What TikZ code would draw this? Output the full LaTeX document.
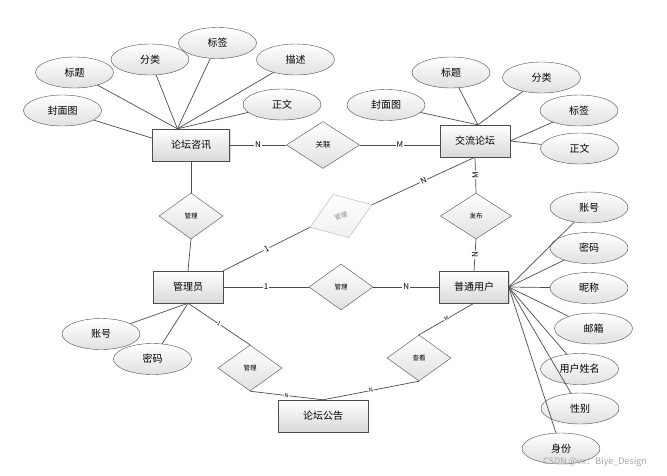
\documentclass[tikz,border=0pt]{standalone}
\usepackage{fontspec}
\newfontfamily\cjk{Noto Sans CJK SC}
\usetikzlibrary{shapes,shadows,positioning}

\begin{document}
\begin{tikzpicture}[on grid,
      entity/.style={draw=black!70,rectangle,minimum width=70pt,minimum height=32pt,
        top color=white,bottom color=black!15,
        drop shadow={shadow xshift=1.2pt,shadow yshift=-1.2pt,opacity=0.3},
        font=\cjk\fontsize{10}{12}\selectfont},
      attrib/.style={draw=black!70,ellipse,minimum width=78pt,minimum height=31pt,
        inner sep=0pt,top color=white,bottom color=black!12,
        font=\cjk\fontsize{10}{12}\selectfont},
      relship/.style={draw=black!70,diamond,minimum width=64pt,minimum height=46pt,
        inner sep=0pt,top color=white,bottom color=black!12,
        font=\cjk\fontsize{6.5}{8}\selectfont},
      link/.style={draw=black!70,line width=0.7pt},
      card/.style={fill=white,inner sep=1pt,font=\cjk\fontsize{8}{9}\selectfont},
      smallcard/.style={fill=white,inner sep=0.5pt,font=\cjk\fontsize{5.5}{6}\selectfont}]
      \useasboundingbox (0,0) rectangle (667pt,-475pt);
      \node [entity,minimum width=77pt] (lt) at (191pt,-145pt) {论坛咨讯};
      \node [relship,minimum width=73pt,minimum height=47pt,right=132pt of lt,
      font=\cjk\fontsize{7.5}{8}\selectfont] (gl) {关联};
      \node [entity,above right=4pt and 152pt of gl] (jl) {交流论坛};
      \draw[link] (lt.east) -- node[card] {N} (gl.west);
      \draw[link] (gl.east) -- node[card] {M} (gl.east -| jl.west);
      \node [relship,below=71pt of lt] (gl1) {管理};
      \node [entity,below left=71pt and 3pt of gl1] (gly) {管理员};
      \draw[link] (lt.south) -- (gl1.north);
      \draw[link] (gl1.south) -- (gly.north);
      \node [relship,right=153pt of gly] (gl2) {管理};
      \node [entity,minimum width=69pt,right=133pt of gl2] (pt) {普通用户};
      \draw[link] (gly.east) -- node[card] {1} (gl2.west);
      \draw[link] (gl2.east) -- node[card] {N} (pt.west);
      \node [relship,minimum width=71pt,above right=71pt and 2pt of pt] (fb) {发布};
      \draw[link] (jl.south) -- node[card,rotate=90] {M} (fb.north);
      \draw[link] (fb.south) -- node[card,rotate=90] {N} (pt.north);
      \node [relship,minimum width=66pt,draw=black!30,top color=white,
      bottom color=black!6,text=black!45,rotate=20,above=71pt of gl2] (gm) {管理};
      \draw[link] (gly.north east) -- node[card,sloped] {1} (gm.west);
      \draw[link] (gm.east) -- node[card,sloped] {N} (jl.south);
      \node [relship,below right=81pt and 62pt of gly] (gl3) {管理};
      \node [entity,minimum width=90pt,below right=48pt and 73pt of gl3] (gg)
      {论坛公告};
      \node [relship,above right=58pt and 96pt of gg] (ck) {查看};
      \draw[link] (gly.south) -- node[smallcard,sloped] {1} (gl3.north);
      \draw[link] (gl3.south) -- node[smallcard,sloped] {N} (gg.north);
      \draw[link] (ck.south) -- node[smallcard,sloped] {N} (gg.north);
      \draw[link] (ck.north) -- node[smallcard,sloped] {M} (pt.south);
      \node [attrib,above left=34.5pt and 128.5pt of lt] (ltfm) {封面图};
      \node [attrib,above left=72.5pt and 116.5pt of lt] (ltbt) {标题};
      \node [attrib,above left=85.5pt and 41pt of lt] (ltfl) {分类};
      \node [attrib,above right=102pt and 26.5pt of lt] (ltbq) {标签};
      \node [attrib,above right=85.5pt and 104.5pt of lt] (ltms) {描述};
      \node [attrib,above right=40.5pt and 91pt of lt] (ltzw) {正文};
      \draw[link] (lt.170) -- (ltfm);
      \draw[link] (lt.130) -- (ltbt);
      \draw[link] (lt.130) -- (ltfl);
      \draw[link] (lt.130) -- (ltbq);
      \draw[link] (lt.130) -- (ltms);
      \draw[link] (lt.130) -- (ltzw);
      \node [attrib,above left=36pt and 89pt of jl] (jlfm) {封面图};
      \node [attrib,above left=68.5pt and 24pt of jl] (jlbt) {标题};
      \node [attrib,above right=63.5pt and 66.5pt of jl] (jlfl) {分类};
      \node [attrib,above right=30.5pt and 104pt of jl] (jlbq) {标签};
      \node [attrib,below right=7.5pt and 104.5pt of jl] (jlzw) {正文};
      \draw[link] (jl.80) -- (jlfm);
      \draw[link] (jl.80) -- (jlbt);
      \draw[link] (jl.80) -- (jlfl);
      \draw[link] (jl.east) -- (jlbq);
      \draw[link] (jl.east) -- (jlzw);
      \node [attrib,above right=79.5pt and 115pt of pt] (ptzh) {账号};
      \node [attrib,above right=39pt and 115pt of pt] (ptmm) {密码};
      \node [attrib,below right=1pt and 115pt of pt] (ptnc) {昵称};
      \node [attrib,below right=41.5pt and 119.5pt of pt] (ptyx) {邮箱};
      \node [attrib,below right=82pt and 105.5pt of pt] (ptxm) {用户姓名};
      \node [attrib,below right=121.5pt and 106pt of pt] (ptxb) {性别};
      \node [attrib,below right=161.5pt and 87pt of pt] (ptsf) {身份};
      \draw[link] (pt.east) -- (ptzh);
      \draw[link] (pt.east) -- (ptmm);
      \draw[link] (pt.east) -- (ptnc);
      \draw[link] (pt.east) -- (ptyx);
      \draw[link] (pt.east) -- (ptxm);
      \draw[link] (pt.east) -- (ptxb);
      \draw[link] (pt.east) -- (ptsf);
      \node [attrib,below left=47pt and 87pt of gly] (glyzh) {账号};
      \node [attrib,below left=72pt and 35.5pt of gly] (glymm) {密码};
      \draw[link] (gly.south) -- (glyzh);
      \draw[link] (gly.south) -- (glymm);
      \node [text=black!35,font=\cjk\fontsize{9}{10}\selectfont] (wm) at (595pt,-462pt)
      {CSDN @vx：Biye\_Design};
      \end{tikzpicture}
\end{document}
